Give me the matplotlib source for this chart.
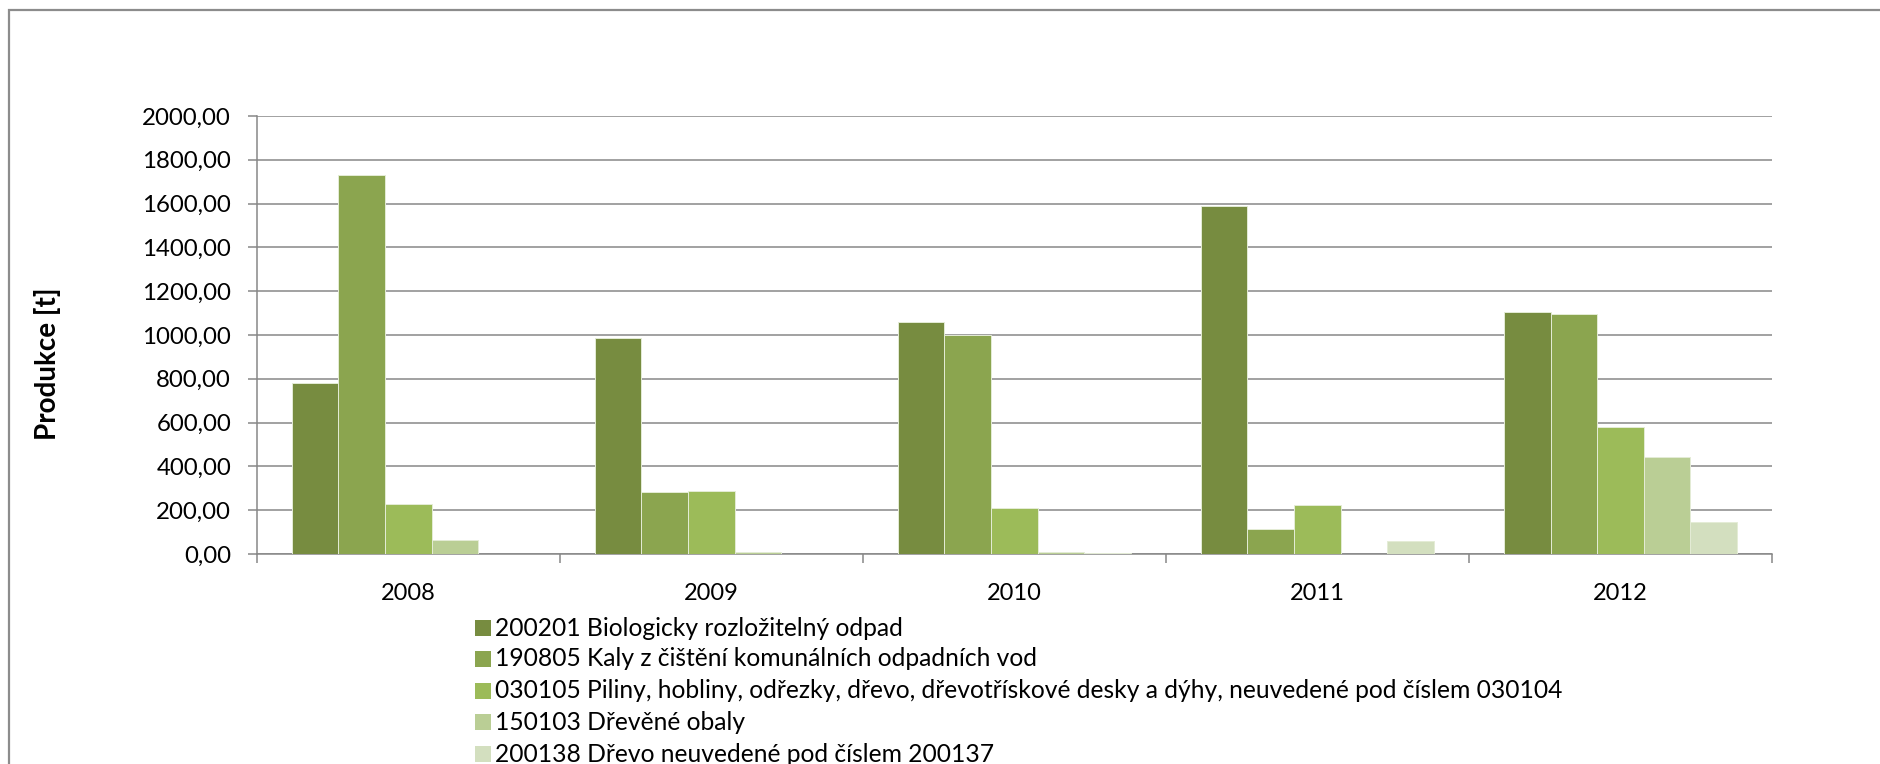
import numpy as np
import matplotlib
matplotlib.use('Agg')
import matplotlib.pyplot as plt
from matplotlib.patches import Rectangle
from matplotlib.ticker import FuncFormatter

plt.rcParams['font.family'] = ['Lato', 'DejaVu Sans']

years = ['2008', '2009', '2010', '2011', '2012']
series_names = [
    '200201 Biologicky rozložitelný odpad',
    '190805 Kaly z čištění komunálních odpadních vod',
    '030105 Piliny, hobliny, odřezky, dřevo, dřevotřískové desky a dýhy, neuvedené pod číslem 030104',
    '150103 Dřevěné obaly',
    '200138 Dřevo neuvedené pod číslem 200137',
]
bio_odpad = [779, 985, 1058, 1588, 1106]
kaly = [1730, 283, 1000, 115, 1097]
piliny = [227, 287, 211, 226, 578]
obaly = [66, 10, 7, 0, 441]
drevo = [0, 0, 5, 58, 144]
values = [bio_odpad, kaly, piliny, obaly, drevo]
colors = ['#778C40', '#8BA54F', '#9CBB59', '#BACE95', '#D3DFBF']

W, H = 1881, 764
fig = plt.figure(figsize=(W / 100, H / 100), dpi=100)
ax = fig.add_axes([256.7 / W, 1 - 554 / H, (1772 - 256.7) / W, (554 - 116) / H])

x = np.arange(len(years))
w = 1 / 6.5
for i, (vals, c) in enumerate(zip(values, colors)):
    ax.bar(x + (i - 2) * w, vals, width=w, color=c, edgecolor='#E4ECD6',
           linewidth=0.7, zorder=3)

ax.set_xlim(-0.5, len(years) - 0.5)
ax.set_ylim(0, 2000)
ax.set_yticks(np.arange(0, 2001, 200))
ax.yaxis.set_major_formatter(FuncFormatter(lambda v, p: f'{v:.2f}'.replace('.', ',')))
ax.yaxis.grid(True, color='#878787', linewidth=1.1, zorder=0)

ax.set_xticks(np.arange(-0.5, len(years), 1))
ax.set_xticklabels([])
ax.set_xticks(x, minor=True)
ax.set_xticklabels(years, minor=True)
ax.tick_params(axis='x', which='major', length=6.5, width=1.1, color='#878787', direction='out')
ax.tick_params(axis='x', which='minor', length=0, pad=21, labelsize=17)
ax.tick_params(axis='y', length=6.5, width=1.1, color='#878787', pad=12, labelsize=17.3)

for s in ['top', 'right']:
    ax.spines[s].set_visible(False)
for s in ['left', 'bottom']:
    ax.spines[s].set_color('#878787')
    ax.spines[s].set_linewidth(1.1)

fig.text(48 / W, 1 - 364 / H, 'Produkce [t]', rotation=90, ha='center', va='center',
         fontsize=20, fontweight='bold')

# legend, drawn by hand so the rows sit where the original has them
row_y = [628, 659, 691, 722, 754]
for name, c, ry in zip(series_names, colors, row_y):
    fig.patches.append(Rectangle((475 / W, 1 - (ry + 8) / H), 16 / W, 16 / H,
                                 transform=fig.transFigure, facecolor=c, edgecolor='none'))
    fig.text(495 / W, 1 - ry / H, name, ha='left', va='center', fontsize=17.7)

# outer chart frame (cut off at right and bottom)
fig.patches.append(Rectangle((9 / W, -0.05), 1.2, 1 - 10 / H + 0.05,
                             transform=fig.transFigure, facecolor='none',
                             edgecolor='#8C8C8C', linewidth=1.6))

fig.savefig('out.png', dpi=100)
